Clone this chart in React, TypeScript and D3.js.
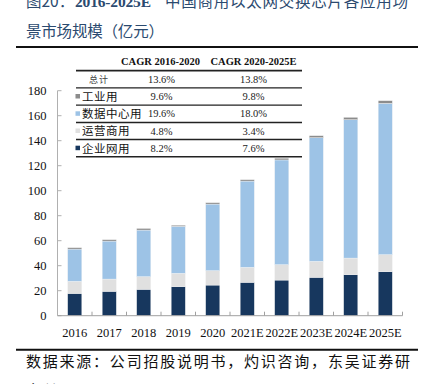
import React from 'react';
import * as d3 from 'd3';

const categories = ['2016', '2017', '2018', '2019', '2020', '2021E', '2022E', '2023E', '2024E', '2025E'];
const enterprise = [17.8, 19.5, 21.1, 23.2, 24.5, 26.7, 28.5, 30.7, 32.8, 35.2];
const operator = [9.7, 9.8, 10.1, 10.7, 11.5, 12.0, 12.3, 12.8, 13.3, 13.6];
const datacenter = [25.8, 30.4, 37.3, 37.6, 53.3, 69.0, 83.8, 98.9, 110.7, 121.1];
const industrial = [1.1, 1.1, 1.3, 0.9, 1.1, 1.1, 1.4, 1.6, 1.9, 2.1];
const yTicks = [0, 20, 40, 60, 80, 100, 120, 140, 160, 180];

const tableHeaders = ['CAGR 2016-2020', 'CAGR 2020-2025E'];
const tableLabels = ['总计', '工业用', '数据中心用', '运营商用', '企业网用'];
const cagr1620 = ['13.6%', '9.6%', '19.6%', '4.8%', '8.2%'];
const cagr2025 = ['13.8%', '9.8%', '18.0%', '3.4%', '7.6%'];

const seriesKeys = ['enterprise', 'operator', 'datacenter', 'industrial'];
const seriesColors: Record<string, string> = {
  enterprise: '#17375e',
  operator: '#e0e0e0',
  datacenter: '#9dc3e6',
  industrial: '#8c8c8c',
};
const labelColors = ['none', '#8c8c8c', '#9dc3e6', '#e0e0e0', '#17375e'];

const rows = categories.map((c, i) => ({
  cat: c,
  enterprise: enterprise[i],
  operator: operator[i],
  datacenter: datacenter[i],
  industrial: industrial[i],
}));

export default function App() {
  const x0 = 57.5, x1 = 402.5, yBase = 315.7, yTop = 90.7;
  const x = d3.scaleBand().domain(categories).range([x0, x1]).paddingInner(0.59).paddingOuter(0.295);
  const y = d3.scaleLinear().domain([0, 180]).range([yBase, yTop]);
  const stack = d3.stack<any>().keys(seriesKeys)(rows);
  const bandStep = (x1 - x0) / categories.length;

  const serif = '"Liberation Serif", "Times New Roman", serif';
  const cjk = '"Noto Sans CJK SC", sans-serif';

  const lineYs = [70.7, 87.9, 105.1, 122.5, 139.5, 156.7];
  const rowCY = [79.5, 96.5, 113.8, 131, 148.2];

  return (
    <svg width={428} height={384} style={{ position: 'fixed', left: 0, top: 0, background: '#fff' }}>
      {/* Title */}
      <text x={26} y={7} fill="#2b4a6f" fontFamily={cjk} fontSize={15.5}>
        图20：
      </text>
      <text x={75} y={7} fill="#2b4a6f" fontFamily={serif} fontWeight="bold" fontSize={15.5} textLength={76} lengthAdjust="spacing">
        2016-2025E
      </text>
      <text x={165} y={7} fill="#2b4a6f" fontFamily={cjk} fontSize={15.5} textLength={243} lengthAdjust="spacing">
        中国商用以太网交换芯片各应用场
      </text>
      <text x={26} y={37} fill="#2b4a6f" fontFamily={cjk} fontSize={15.5} textLength={138} lengthAdjust="spacing">
        景市场规模（亿元）
      </text>
      <line x1={16} x2={418} y1={47} y2={47} stroke="#111" strokeWidth={2} />

      {/* Bars */}
      {stack.map((s) => (
        <g key={s.key} fill={seriesColors[s.key]}>
          {s.map((d, i) => (
            <rect
              key={i}
              x={x(categories[i])}
              width={x.bandwidth()}
              y={y(d[1])}
              height={y(d[0]) - y(d[1])}
              stroke="#f4f4f4"
              strokeWidth={0.4}
            />
          ))}
        </g>
      ))}

      {/* Y axis */}
      <line x1={x0} x2={x0} y1={yTop} y2={yBase} stroke="#b0b0b0" strokeWidth={1} />
      {yTicks.map((t) => (
        <g key={t}>
          <line x1={x0} x2={x0 + 4} y1={y(t)} y2={y(t)} stroke="#b0b0b0" strokeWidth={1} />
          <text x={46.5} y={y(t)} dy="0.35em" textAnchor="end" fontFamily={serif} fontSize={12.5} fill="#111">
            {t}
          </text>
        </g>
      ))}

      {/* X axis */}
      <line x1={x0} x2={x1} y1={yBase} y2={yBase} stroke="#a0a0a0" strokeWidth={1} />
      {categories.map((c, i) => (
        <g key={c}>
          <line x1={x0 + bandStep * (i + 1)} x2={x0 + bandStep * (i + 1)} y1={yBase - 4} y2={yBase} stroke="#a0a0a0" />
          <text x={(x(c) as number) + x.bandwidth() / 2} y={337} textAnchor="middle" fontFamily={serif} fontSize={12.5} fill="#111">
            {c}
          </text>
        </g>
      ))}

      {/* CAGR table */}
      <text x={160.5} y={65} textAnchor="middle" fontFamily={serif} fontWeight="bold" fontSize={10.5} fill="#111">
        {tableHeaders[0]}
      </text>
      <text x={253.5} y={65} textAnchor="middle" fontFamily={serif} fontWeight="bold" fontSize={10.5} fill="#111">
        {tableHeaders[1]}
      </text>
      {lineYs.map((ly, i) => (
        <line key={i} x1={76} x2={302} y1={ly} y2={ly} stroke="#222" strokeWidth={i === 0 ? 1.8 : 1.4} />
      ))}
      {tableLabels.map((lab, i) => (
        <g key={lab}>
          {i === 0 ? (
            <text x={89} y={rowCY[i]} dy="0.35em" fontFamily={cjk} fontSize={9} fill="#444" letterSpacing={1}>
              {lab}
            </text>
          ) : (
            <>
              <rect x={75.5} y={rowCY[i] - 2.5} width={4.5} height={4.5} fill={labelColors[i]} />
              <text x={82} y={rowCY[i]} dy="0.38em" fontFamily={cjk} fontSize={11.5} fill="#111" letterSpacing={0.5}>
                {lab}
              </text>
            </>
          )}
          <text x={161.5} y={rowCY[i]} dy="0.35em" textAnchor="middle" fontFamily={serif} fontSize={10.5} fill="#222">
            {cagr1620[i]}
          </text>
          <text x={253.5} y={rowCY[i]} dy="0.35em" textAnchor="middle" fontFamily={serif} fontSize={10.5} fill="#222">
            {cagr2025[i]}
          </text>
        </g>
      ))}

      {/* Source */}
      <line x1={16} x2={418} y1={349.8} y2={349.8} stroke="#111" strokeWidth={2} />
      <text x={26} y={367} fontFamily={cjk} fontSize={15} fill="#111" textLength={384} lengthAdjust="spacing">
        数据来源：公司招股说明书，灼识咨询，东吴证券研
      </text>
      <text x={26} y={396} fontFamily={cjk} fontSize={15} fill="#111">
        究所
      </text>
    </svg>
  );
}
